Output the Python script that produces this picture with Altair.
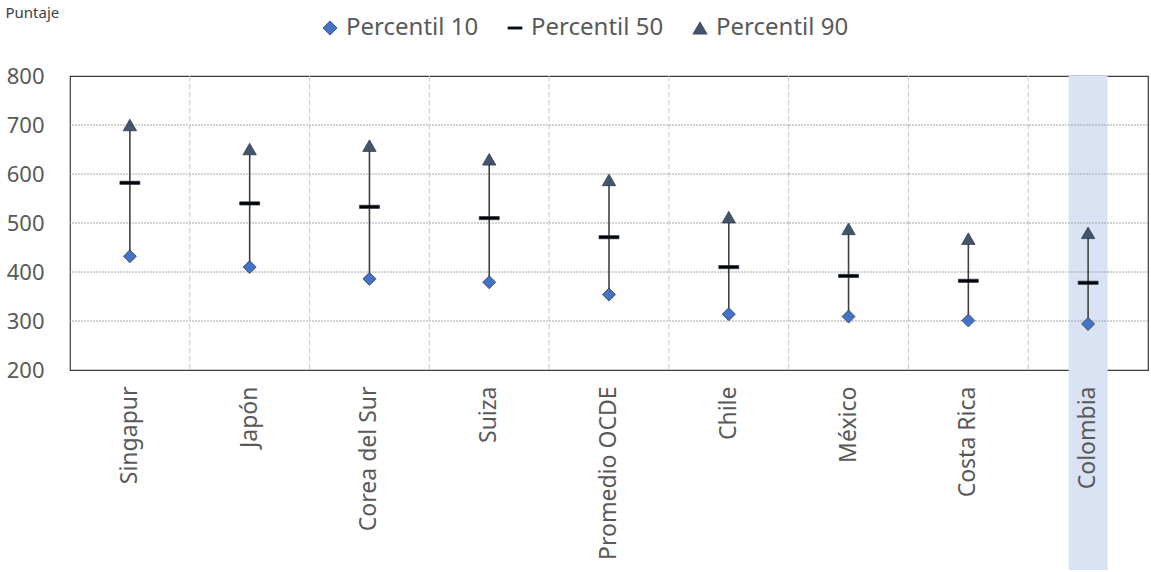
import altair as alt
import pandas as pd

# Puntajes por percentil (10, 50, 90) para cada país
paises = ["Singapur", "Japón", "Corea del Sur", "Suiza", "Promedio OCDE",
          "Chile", "México", "Costa Rica", "Colombia"]
p10 = [432, 410, 386, 379, 354, 314, 309, 301, 294]
p50 = [582, 540, 533, 510, 471, 410, 392, 382, 378]
p90 = [700, 651, 658, 630, 588, 512, 488, 468, 480]
series = ["Percentil 10", "Percentil 50", "Percentil 90"]
y_ticks = [200, 300, 400, 500, 600, 700, 800]
destacado = ["Colombia"]

FONT = "Noto Sans"
GRIS = "#595959"
DASH = "M-1,-0.16L1,-0.16L1,0.16L-1,0.16Z"

wide = pd.DataFrame({"pais": paises, "Percentil 10": p10,
                     "Percentil 50": p50, "Percentil 90": p90})
grid_y = pd.DataFrame({"v": y_ticks[1:-1]})
grid_x = pd.DataFrame({"pais": paises[1:]})
band = pd.DataFrame({"pais": destacado})

x_scale = alt.Scale(domain=paises, paddingInner=0, paddingOuter=0)
y_scale = alt.Scale(domain=[y_ticks[0], y_ticks[-1]], nice=False, zero=False)

x_enc = alt.X("pais:N", scale=x_scale, sort=paises,
              axis=alt.Axis(title=None, labelAngle=270, labelAlign="right",
                            labelBaseline="middle", labelPadding=16,
                            labelFontSize=23, labelColor=GRIS, labelFont=FONT,
                            ticks=False, domain=False, grid=False, zindex=1))

# Banda de resaltado detrás de Colombia (se extiende bajo la etiqueta)
banda = alt.Chart(band).mark_bar(size=39, color="#DAE3F3").encode(
    x=alt.X("pais:N", scale=x_scale, sort=paises),
    y=alt.value(0),
    y2=alt.value(494),
)

# Líneas de cuadrícula horizontales punteadas
rejilla_h = alt.Chart(grid_y).mark_rule(color="#A6A6A6", strokeDash=[2, 1],
                                        strokeWidth=1).encode(
    y=alt.Y("v:Q", scale=y_scale),
)

# Líneas verticales discontinuas entre categorías
rejilla_v = alt.Chart(grid_x).mark_rule(color="#C8C8C8", strokeDash=[5, 3],
                                        strokeWidth=1).encode(
    x=alt.X("pais:N", scale=x_scale, sort=paises, bandPosition=0),
)

# Línea alta-baja entre percentil 10 y 90
rango = alt.Chart(wide).mark_rule(color="#404040", strokeWidth=1.6).encode(
    x=x_enc,
    y=alt.Y("Percentil 10:Q", scale=y_scale,
            axis=alt.Axis(title="Puntaje", titleAngle=0, titleAlign="left",
                          titleBaseline="alphabetic", titleX=-65, titleY=-59,
                          titleFontSize=15, titleFontWeight="normal",
                          titleColor="#404040", titleFont=FONT,
                          values=y_ticks, labelFontSize=22, labelColor=GRIS,
                          labelFont=FONT, labelPadding=26, ticks=False,
                          domain=False, grid=False)),
    y2="Percentil 90:Q",
)

shape_scale = alt.Scale(domain=series, range=["diamond", DASH, "triangle-up"])
color_scale = alt.Scale(domain=series, range=["#4472C4", "#000000", "#44546A"])
leyenda = alt.Legend(title=None, orient="none", direction="horizontal",
                     legendX=248, legendY=-60, padding=0,
                     labelFontSize=24, labelColor=GRIS, labelFont=FONT,
                     symbolSize=200, labelOffset=4, columnPadding=24,
                     symbolStrokeWidth=0.7, symbolStrokeColor="#26344A")

tam = {"Percentil 10": 170, "Percentil 50": 400, "Percentil 90": 180}


def marcadores(serie):
    return alt.Chart(wide).transform_fold(
        series, as_=["serie", "valor"]
    ).transform_filter(
        alt.datum.serie == serie
    ).mark_point(filled=True, opacity=1, size=tam[serie],
                 stroke="#26344A", strokeWidth=0.7).encode(
        x=alt.X("pais:N", scale=x_scale, sort=paises),
        y=alt.Y("valor:Q", scale=y_scale),
        shape=alt.Shape("serie:N", scale=shape_scale, legend=leyenda),
        color=alt.Color("serie:N", scale=color_scale, legend=leyenda),
    )


capas = [banda, rejilla_h, rejilla_v, rango] + [marcadores(s) for s in series]

chart = alt.layer(*capas).properties(
    width=1078, height=294,
    autosize=alt.AutoSizeParams(type="none"),
    padding={"left": 70, "top": 76, "right": 3, "bottom": 202},
    background="white",
).configure_view(stroke="#3A3A3A", strokeWidth=1.2)

chart.save("out.html", embed_options={"renderer": "svg", "actions": False})
